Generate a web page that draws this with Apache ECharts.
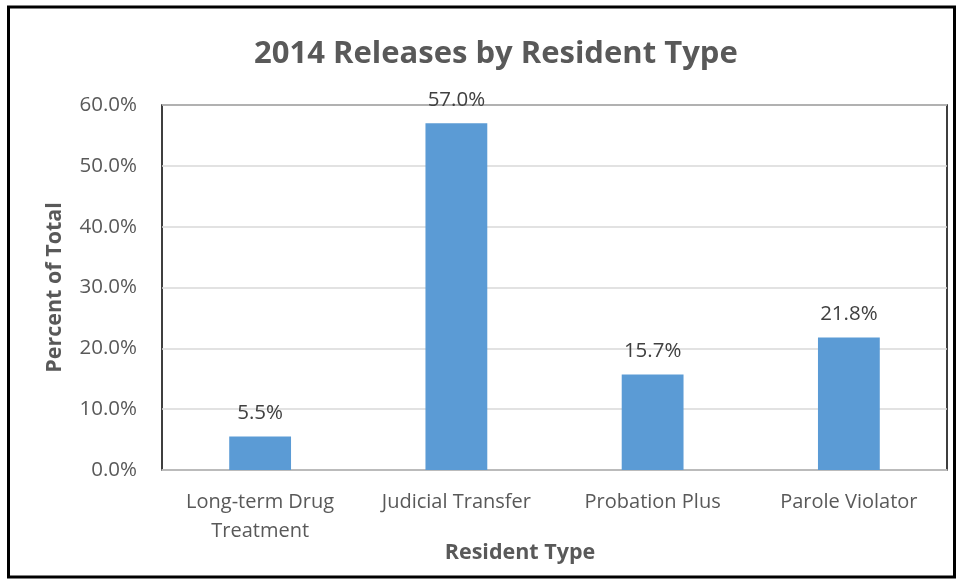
<!DOCTYPE html>
<html>
<head>
<meta charset="utf-8">
<script src="https://cdn.jsdelivr.net/npm/echarts@6/dist/echarts.min.js"></script>
<style>
  html, body { margin: 0; padding: 0; background: #fff; }
  #chart { width: 956px; height: 580px; }
</style>
</head>
<body>
<div id="chart"></div>
<script>
const categories = ['Long-term Drug\nTreatment', 'Judicial Transfer', 'Probation Plus', 'Parole Violator'];
const percentValues = [5.5, 57.0, 15.7, 21.8];
const yTicks = [0, 10, 20, 30, 40, 50, 60];

const FONT = '"Open Sans", "Liberation Sans", sans-serif';
const TEXT = '#595959';

const chart = echarts.init(document.getElementById('chart'));
chart.setOption({
  animation: false,
  backgroundColor: '#ffffff',
  title: {
    text: '2014 Releases by Resident Type',
    left: 249,
    top: 34,
    textStyle: { fontFamily: FONT, fontSize: 31, fontWeight: 'bold', color: TEXT }
  },
  graphic: [{
    type: 'rect',
    shape: { x: 8.5, y: 7, width: 946, height: 570 },
    style: { fill: 'none', stroke: '#000', lineWidth: 3 },
    z: 100
  }, {
    type: 'text',
    x: 520,
    y: 553,
    style: {
      text: 'Resident Type',
      fontFamily: FONT, fontSize: 21.5, fontWeight: 'bold', fill: TEXT,
      align: 'center', verticalAlign: 'middle'
    }
  }],
  grid: {
    left: 162, right: 9, top: 105, bottom: 110,
    show: true, borderColor: '#000', borderWidth: 1.5, backgroundColor: 'transparent'
  },
  xAxis: {
    type: 'category',
    data: categories,
    axisLine: { lineStyle: { color: '#bfbfbf', width: 1.5 } },
    axisTick: { show: false },
    axisLabel: { interval: 0, fontFamily: FONT, fontSize: 20, color: TEXT, margin: 18, lineHeight: 29 }
  },
  yAxis: {
    type: 'value',
    min: yTicks[0],
    max: yTicks[yTicks.length - 1],
    interval: 10,
    name: 'Percent of Total',
    nameLocation: 'middle',
    nameGap: 96,
    nameTextStyle: { fontFamily: FONT, fontSize: 21.5, fontWeight: 'bold', color: TEXT },
    axisLine: { show: false },
    axisTick: { show: false },
    axisLabel: {
      fontFamily: FONT, fontSize: 20.5, color: TEXT, margin: 25,
      formatter: v => v.toFixed(1) + '%'
    },
    splitLine: { lineStyle: { color: '#d9d9d9', width: 1.5 } }
  },
  series: [{
    type: 'bar',
    data: percentValues,
    barWidth: '31.5%',
    itemStyle: { color: '#5b9bd5' },
    label: {
      show: true,
      position: 'top',
      distance: 13,
      fontFamily: FONT, fontSize: 20.5, color: '#404040',
      formatter: p => p.value.toFixed(1) + '%'
    },
    z: 10
  }]
});
</script>
</body>
</html>
